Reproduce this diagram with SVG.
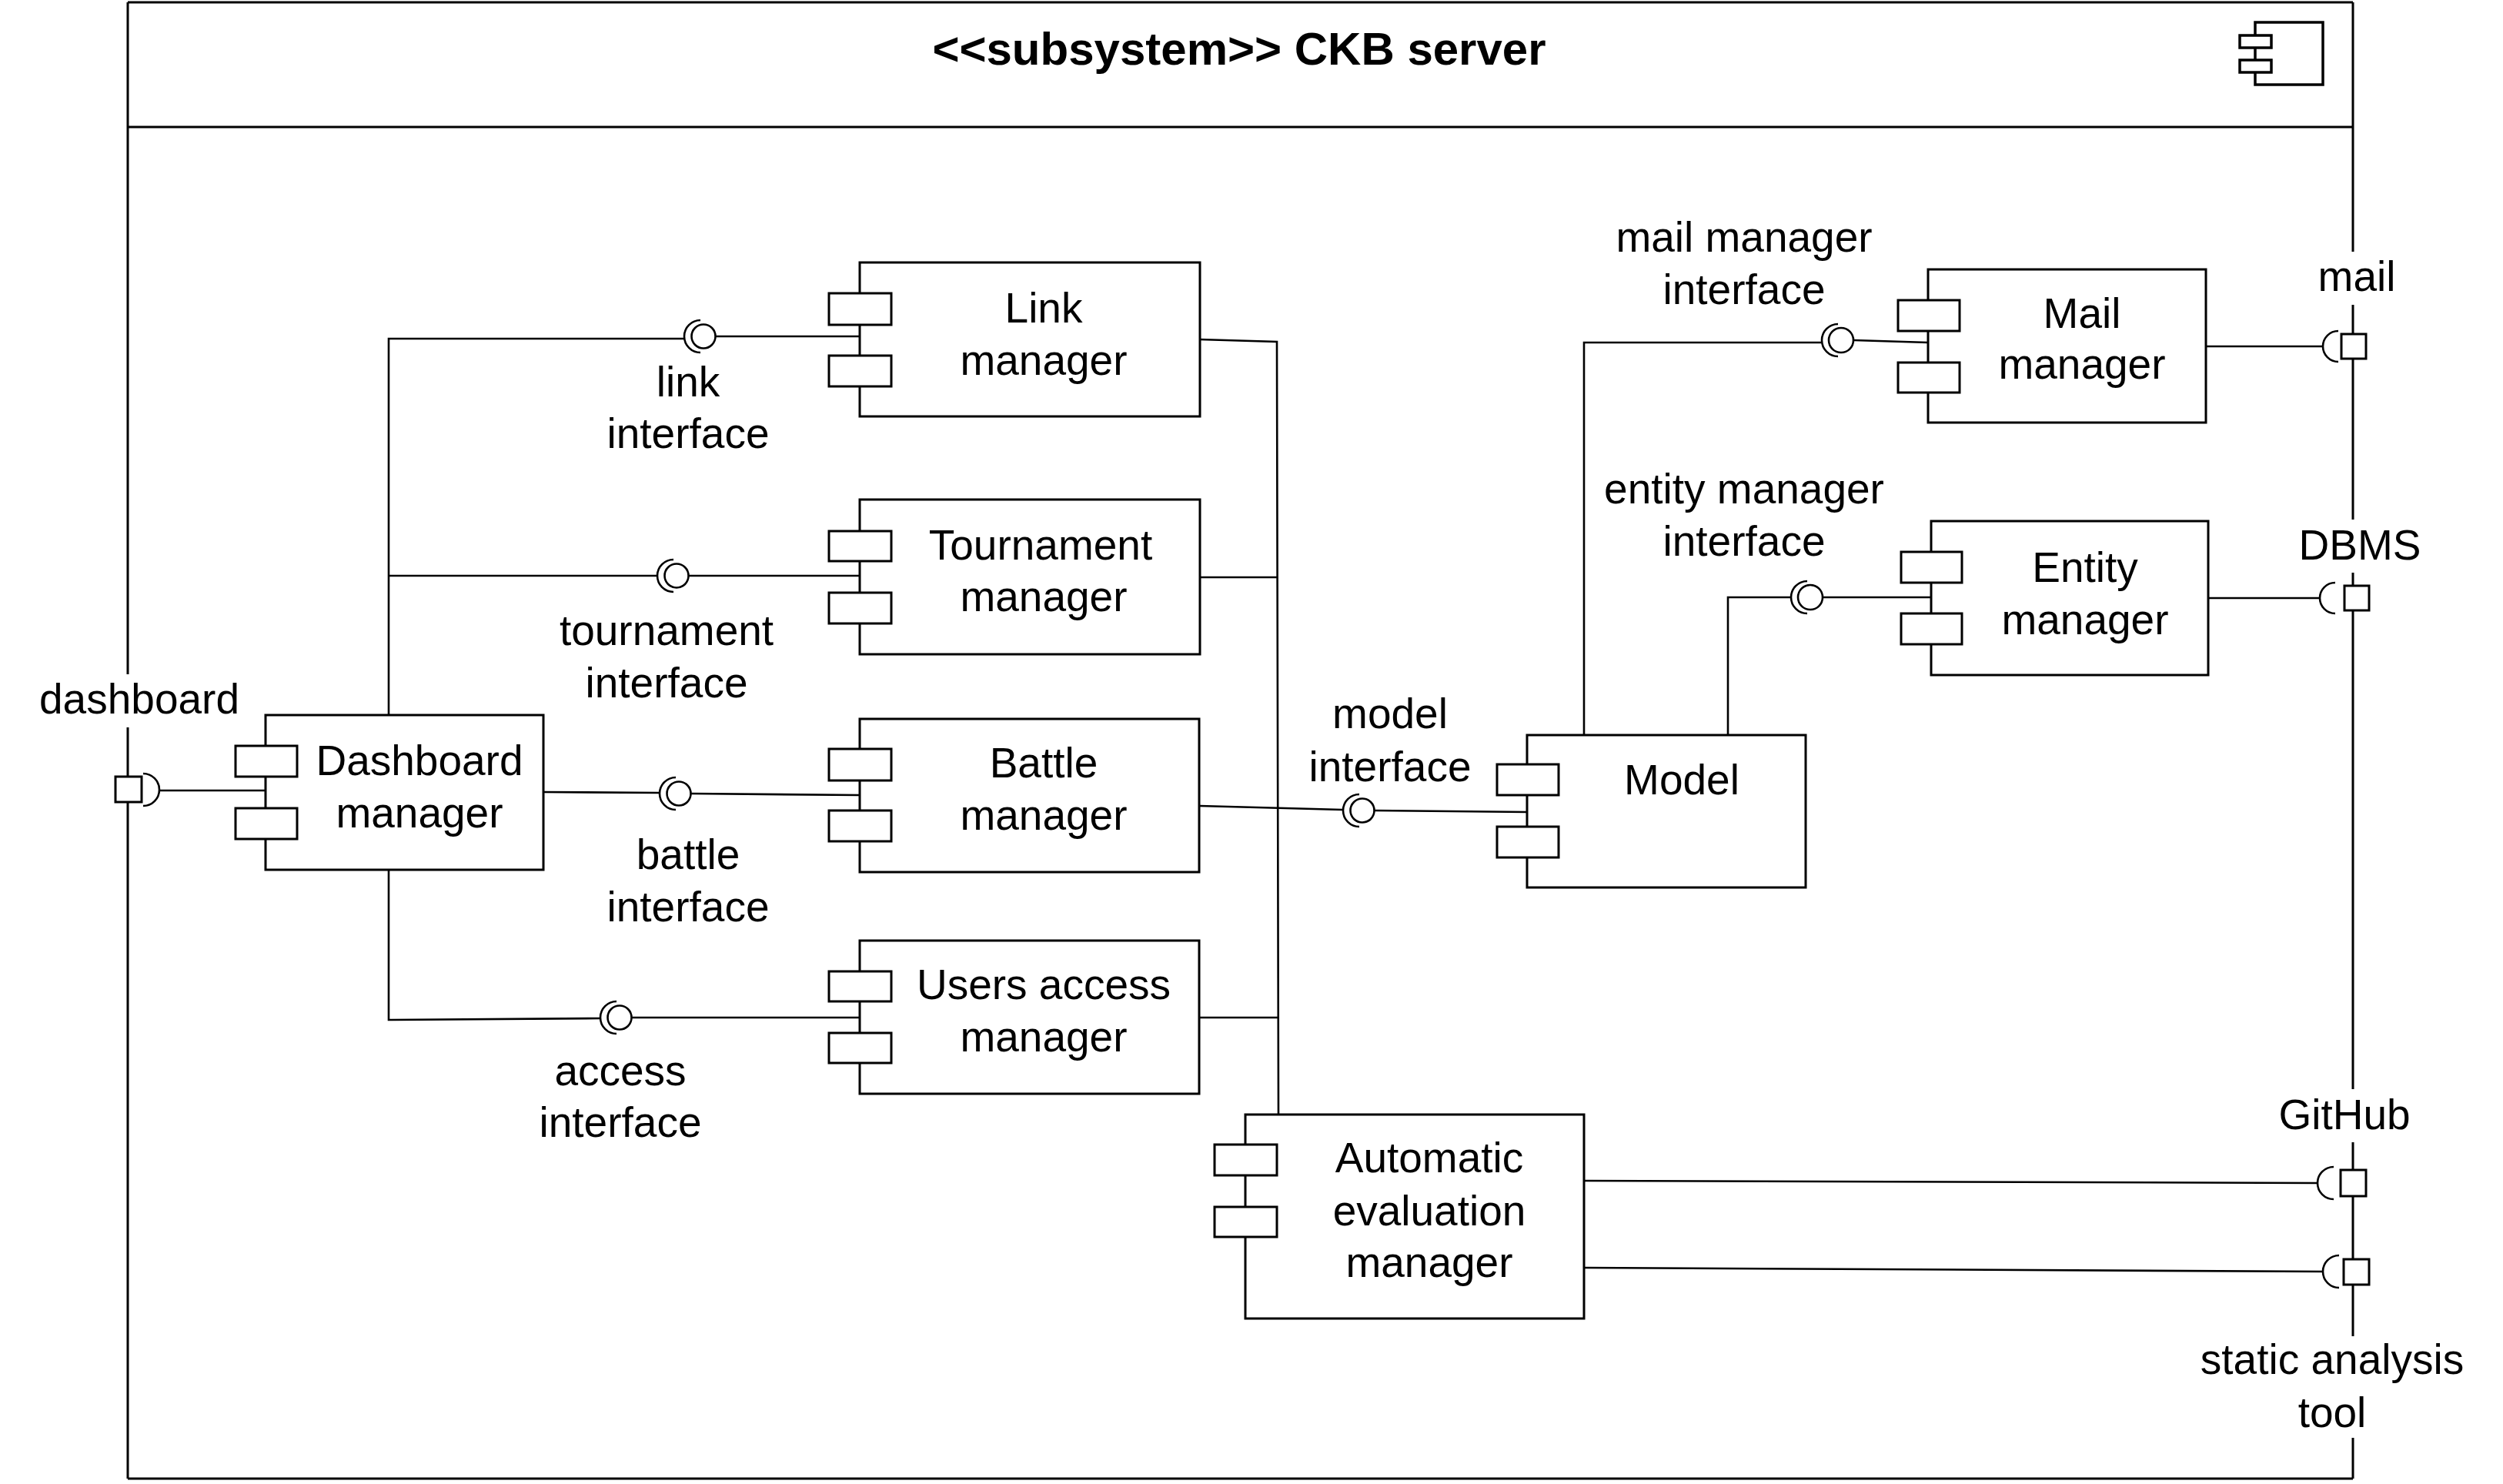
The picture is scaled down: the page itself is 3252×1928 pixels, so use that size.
<svg xmlns="http://www.w3.org/2000/svg" width="3252" height="1928" viewBox="0 0 3252 1928">
<style>
.box{fill:#fff;stroke:#000;stroke-width:3}
.port{fill:#fff;stroke:#000;stroke-width:3}
.ln{fill:none;stroke:#000;stroke-width:2.6}
.sock{fill:none;stroke:#000;stroke-width:2.6}
.lol{fill:#fff;stroke:#000;stroke-width:2.6}
text{font-family:"Liberation Sans",Arial,sans-serif;font-size:55px;fill:#000;text-anchor:middle}
.title{font-weight:bold;font-size:60px}
</style>
<rect width="3252" height="1928" fill="#fff"/>

<g id="frame">
  <line class="box" x1="166" y1="3" x2="3057" y2="3"/>
  <line class="box" x1="166" y1="165" x2="3057" y2="165"/>
  <line class="box" x1="166" y1="1921" x2="3057" y2="1921"/>
  <polyline class="box" fill="none" points="166,3 166,876"/>
  <polyline class="box" fill="none" points="166,945 166,1921"/>
  <polyline class="box" fill="none" points="3057,3 3057,327"/>
  <polyline class="box" fill="none" points="3057,396 3057,675"/>
  <polyline class="box" fill="none" points="3057,744 3057,1415"/>
  <polyline class="box" fill="none" points="3057,1484 3057,1736"/>
  <polyline class="box" fill="none" points="3057,1868 3057,1921"/>
  <text class="title" x="1610" y="84">&lt;&lt;subsystem&gt;&gt; CKB server</text>
  <g id="frame-icon">
    <rect x="2930" y="29" width="88" height="81" fill="#fff" stroke="#000" stroke-width="3.5"/>
    <rect x="2910" y="46" width="41" height="16" fill="#fff" stroke="#000" stroke-width="3.5"/>
    <rect x="2910" y="78" width="41" height="16" fill="#fff" stroke="#000" stroke-width="3.5"/>
  </g>
</g>

<g id="connectors">
  <!-- dashboard external port -->
  <line class="ln" x1="207" y1="1027" x2="345" y2="1027"/>
  <!-- Dashboard required interfaces -->
  <polyline class="ln" points="505,929 505,440 889,440"/>
  <line class="ln" x1="505" y1="748" x2="853" y2="748"/>
  <line class="ln" x1="706" y1="1029" x2="857" y2="1030"/>
  <polyline class="ln" points="505,1130 505,1325 781,1323"/>
  <!-- provided interface stems -->
  <line class="ln" x1="930" y1="437" x2="1117" y2="437"/>
  <line class="ln" x1="895" y1="748" x2="1117" y2="748"/>
  <line class="ln" x1="898" y1="1031" x2="1117" y2="1033"/>
  <line class="ln" x1="821" y1="1322" x2="1117" y2="1322"/>
  <!-- bus to automatic evaluation manager -->
  <polyline class="ln" points="1559,441 1659,444 1661,1448"/>
  <line class="ln" x1="1559" y1="750" x2="1659" y2="750"/>
  <line class="ln" x1="1559" y1="1322" x2="1660" y2="1322"/>
  <!-- battle to model interface -->
  <line class="ln" x1="1559" y1="1047" x2="1744" y2="1052"/>
  <line class="ln" x1="1786" y1="1053" x2="1984" y2="1055"/>
  <!-- model to mail / entity interfaces -->
  <polyline class="ln" points="2058,954 2058,445 2366,445"/>
  <line class="ln" x1="2409" y1="442" x2="2505" y2="445"/>
  <polyline class="ln" points="2245,954 2245,776 2326,776"/>
  <line class="ln" x1="2369" y1="776" x2="2509" y2="776"/>
  <!-- to external ports -->
  <line class="ln" x1="2866" y1="450" x2="3018" y2="450"/>
  <line class="ln" x1="2869" y1="777" x2="3014" y2="777"/>
  <line class="ln" x1="2058" y1="1534" x2="3012" y2="1537"/>
  <line class="ln" x1="2058" y1="1647" x2="3019" y2="1652"/>

  <!-- lollipops (provided) and sockets (required) -->
  <g id="link-interface">
    <circle class="lol" cx="914" cy="437" r="15.5"/>
    <path class="sock" d="M910,416 A21,21 0 0 0 910,458"/>
  </g>
  <g id="tournament-interface">
    <circle class="lol" cx="879" cy="748" r="15.5"/>
    <path class="sock" d="M875,727 A21,21 0 0 0 875,769"/>
  </g>
  <g id="battle-interface">
    <circle class="lol" cx="882" cy="1031" r="15.5"/>
    <path class="sock" d="M878,1010 A21,21 0 0 0 878,1052"/>
  </g>
  <g id="access-interface">
    <circle class="lol" cx="805" cy="1322" r="15.5"/>
    <path class="sock" d="M801,1301 A21,21 0 0 0 801,1343"/>
  </g>
  <g id="model-interface">
    <circle class="lol" cx="1770" cy="1053" r="15.5"/>
    <path class="sock" d="M1766,1032 A21,21 0 0 0 1766,1074"/>
  </g>
  <g id="mail-manager-interface">
    <circle class="lol" cx="2392" cy="442" r="16"/>
    <path class="sock" d="M2388,421 A21,21 0 0 0 2388,463"/>
  </g>
  <g id="entity-manager-interface">
    <circle class="lol" cx="2352" cy="776" r="16"/>
    <path class="sock" d="M2348,755 A21,21 0 0 0 2348,797"/>
  </g>
  <!-- external sockets -->
  <path class="sock" d="M186,1005 A21,21 0 0 1 186,1047"/>
  <path class="sock" d="M3038,430 A20,20 0 0 0 3038,470"/>
  <path class="sock" d="M3034,757 A20,20 0 0 0 3034,797"/>
  <path class="sock" d="M3032,1516 A21,21 0 0 0 3032,1558"/>
  <path class="sock" d="M3039,1631 A21,21 0 0 0 3039,1673"/>
</g>

<g id="port-dashboard">
  <rect class="port" x="150" y="1009" width="34" height="33"/>
  <text x="181" y="927">dashboard</text>
</g>
<g id="port-mail">
  <rect class="port" x="3042" y="434" width="32" height="32"/>
  <text x="3062" y="378">mail</text>
</g>
<g id="port-dbms">
  <rect class="port" x="3046" y="761" width="32" height="32"/>
  <text x="3066" y="727">DBMS</text>
</g>
<g id="port-github">
  <rect class="port" x="3041" y="1520" width="33" height="34"/>
  <text x="3046" y="1467">GitHub</text>
</g>
<g id="port-static-analysis">
  <rect class="port" x="3045" y="1636" width="33" height="33"/>
  <text x="3030" y="1785">static analysis</text>
  <text x="3030" y="1854">tool</text>
</g>

<g id="labels">
  <text x="894" y="515">link</text>
  <text x="894" y="582">interface</text>
  <text x="866" y="838">tournament</text>
  <text x="866" y="906">interface</text>
  <text x="894" y="1129">battle</text>
  <text x="894" y="1197">interface</text>
  <text x="806" y="1410">access</text>
  <text x="806" y="1477">interface</text>
  <text x="1806" y="946">model</text>
  <text x="1806" y="1015">interface</text>
  <text x="2266" y="327">mail manager</text>
  <text x="2266" y="395">interface</text>
  <text x="2266" y="654">entity manager</text>
  <text x="2266" y="722">interface</text>
</g>

<g id="dashboard-manager">
  <rect class="box" x="345" y="929" width="361" height="201"/>
  <rect class="port" x="306" y="969" width="80" height="40"/>
  <rect class="port" x="306" y="1050" width="80" height="40"/>
  <text x="545" y="1007">Dashboard</text>
  <text x="545" y="1075">manager</text>
</g>
<g id="link-manager">
  <rect class="box" x="1117" y="341" width="442" height="200"/>
  <rect class="port" x="1077" y="381" width="81" height="41"/>
  <rect class="port" x="1077" y="462" width="81" height="40"/>
  <text x="1356" y="419">Link</text>
  <text x="1356" y="487">manager</text>
</g>
<g id="tournament-manager">
  <rect class="box" x="1117" y="649" width="442" height="201"/>
  <rect class="port" x="1077" y="690" width="81" height="39"/>
  <rect class="port" x="1077" y="770" width="81" height="40"/>
  <text x="1352" y="727">Tournament</text>
  <text x="1356" y="794">manager</text>
</g>
<g id="battle-manager">
  <rect class="box" x="1117" y="934" width="441" height="199"/>
  <rect class="port" x="1077" y="973" width="81" height="41"/>
  <rect class="port" x="1077" y="1053" width="81" height="40"/>
  <text x="1356" y="1010">Battle</text>
  <text x="1356" y="1078">manager</text>
</g>
<g id="users-access-manager">
  <rect class="box" x="1117" y="1222" width="441" height="199"/>
  <rect class="port" x="1077" y="1262" width="81" height="39"/>
  <rect class="port" x="1077" y="1342" width="81" height="39"/>
  <text x="1356" y="1298">Users access</text>
  <text x="1356" y="1366">manager</text>
</g>
<g id="automatic-evaluation-manager">
  <rect class="box" x="1618" y="1448" width="440" height="265"/>
  <rect class="port" x="1578" y="1487" width="81" height="40"/>
  <rect class="port" x="1578" y="1568" width="81" height="39"/>
  <text x="1857" y="1523">Automatic</text>
  <text x="1857" y="1592">evaluation</text>
  <text x="1857" y="1659">manager</text>
</g>
<g id="model">
  <rect class="box" x="1984" y="955" width="362" height="198"/>
  <rect class="port" x="1945" y="993" width="80" height="40"/>
  <rect class="port" x="1945" y="1074" width="80" height="40"/>
  <text x="2185" y="1032">Model</text>
</g>
<g id="mail-manager">
  <rect class="box" x="2505" y="350" width="361" height="199"/>
  <rect class="port" x="2466" y="390" width="80" height="40"/>
  <rect class="port" x="2466" y="471" width="80" height="39"/>
  <text x="2705" y="426">Mail</text>
  <text x="2705" y="492">manager</text>
</g>
<g id="entity-manager">
  <rect class="box" x="2509" y="677" width="360" height="200"/>
  <rect class="port" x="2470" y="717" width="79" height="40"/>
  <rect class="port" x="2470" y="797" width="79" height="40"/>
  <text x="2709" y="756">Entity</text>
  <text x="2709" y="824">manager</text>
</g>
</svg>
